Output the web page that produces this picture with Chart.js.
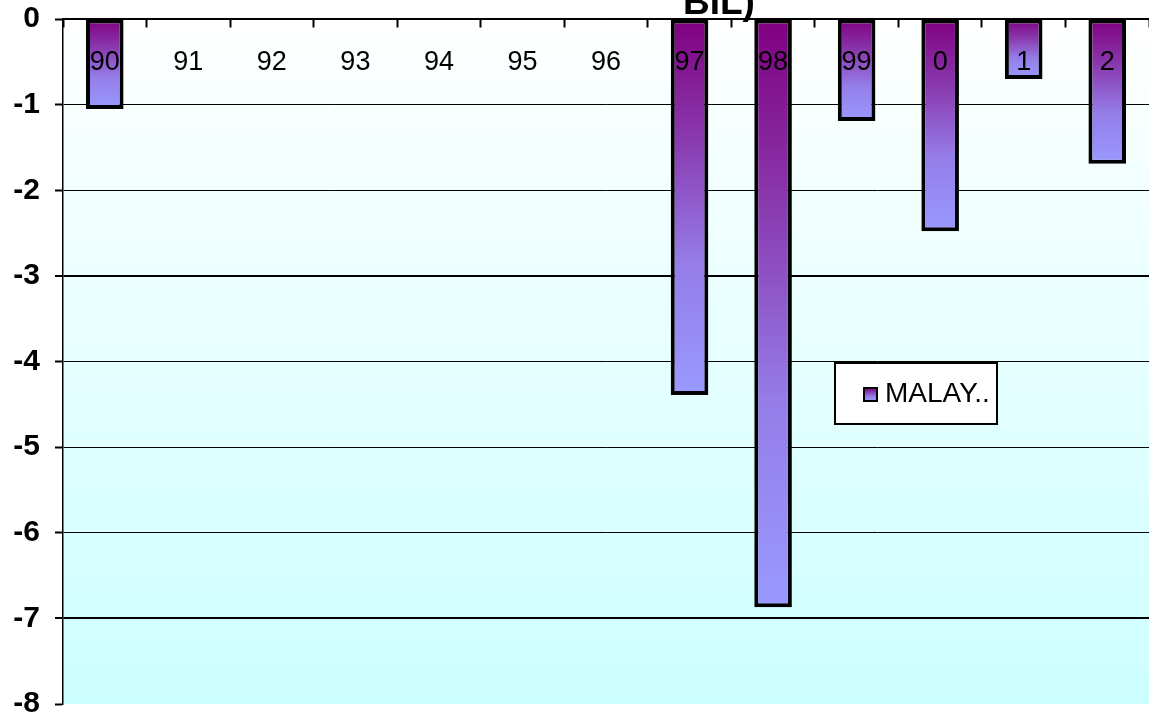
<!DOCTYPE html>
<html>
<head>
<meta charset="utf-8">
<script src="https://cdn.jsdelivr.net/npm/chart.js@4/dist/chart.umd.min.js"></script>
<style>
  html, body { margin: 0; padding: 0; background: #fff; }
  #wrap { width: 1149px; height: 719px; position: relative; }
</style>
</head>
<body>
<div id="wrap"><canvas id="c" width="1149" height="719"></canvas></div>
<script>
// Years (two-digit) along the category axis
const years = ['90', '91', '92', '93', '94', '95', '96', '97', '98', '99', '0', '1', '2'];
// Series values (negative balances); empty years have no bar
const malaysia = [-1.05, null, null, null, null, null, null, -4.39, -6.87, -1.19, -2.48, -0.70, -1.69];
const seriesName = 'MALAYSIA';
const titleTail = 'BIL)';
// Value axis range
const yMin = -8;
const yMax = 0;
const yStep = 1;
// Heavier rules on a couple of gridlines
const heavyRules = [-3, -7];

const FONT = "'Liberation Sans', Arial, sans-serif";
const BAR_TOP = [128, 0, 128];
const BAR_BOTTOM = [153, 153, 255];
// Position along the bar -> share of the lighter colour
const BAR_STOPS = [[0, 0], [0.3, 0.35], [0.65, 0.82], [1, 1]];

function mix(t) {
  const c = BAR_TOP.map((v, i) => Math.round(v + (BAR_BOTTOM[i] - v) * t));
  return 'rgb(' + c.join(',') + ')';
}

function barGradient(ctx2d, y0, y1) {
  const g = ctx2d.createLinearGradient(0, y0, 0, y1);
  BAR_STOPS.forEach(([p, t]) => g.addColorStop(p, mix(t)));
  return g;
}

// Plot-area background: white at the top fading to pale cyan at the bottom
const plotBackground = {
  id: 'plotBackground',
  beforeDraw(chart) {
    const { ctx, chartArea: a } = chart;
    const g = ctx.createLinearGradient(0, a.top, 0, a.bottom);
    g.addColorStop(0, '#FFFFFF');
    g.addColorStop(1, '#CCFFFF');
    ctx.save();
    ctx.fillStyle = g;
    ctx.fillRect(a.left, a.top, a.right - a.left, a.bottom - a.top);
    ctx.restore();
  }
};

// Tail of the chart heading, running off the top edge
const headingTail = {
  id: 'headingTail',
  afterDraw(chart) {
    const { ctx } = chart;
    ctx.save();
    ctx.font = 'bold 37px ' + FONT;
    ctx.fillStyle = '#000';
    ctx.textAlign = 'left';
    ctx.textBaseline = 'alphabetic';
    ctx.fillText(titleTail, 683, 14);
    ctx.restore();
  }
};

// Boxed legend inside the plot area
const boxLegend = {
  id: 'boxLegend',
  afterDraw(chart) {
    const { ctx } = chart;
    const ds = chart.data.datasets[0];
    const bx = 835, by = 363, bw = 162, bh = 61;
    ctx.save();
    ctx.fillStyle = '#FFFFFF';
    ctx.fillRect(bx, by, bw, bh);
    ctx.lineWidth = 2;
    ctx.strokeStyle = '#000';
    ctx.strokeRect(bx, by, bw, bh);

    const mx = 864, my = 388, ms = 13;
    ctx.fillStyle = barGradient(ctx, my, my + ms);
    ctx.fillRect(mx, my, ms, ms);
    ctx.lineWidth = 2;
    ctx.strokeRect(mx, my, ms, ms);

    ctx.font = '28px ' + FONT;
    ctx.fillStyle = '#000';
    ctx.textBaseline = 'middle';
    const tx = 885;
    const room = bx + bw - tx;
    let text = ds.label;
    if (ctx.measureText(text).width > room) {
      let cut = text;
      while (cut.length > 1 && ctx.measureText(cut + '..').width > room) cut = cut.slice(0, -1);
      text = cut + '..';
    }
    ctx.beginPath();
    ctx.rect(bx, by, bw, bh);
    ctx.clip();
    ctx.fillText(text, tx, by + bh / 2 + 1);
    ctx.restore();
  }
};

new Chart(document.getElementById('c'), {
  type: 'bar',
  data: {
    labels: years,
    datasets: [{
      label: seriesName,
      data: malaysia,
      backgroundColor(c) {
        const chart = c.chart;
        if (c.type !== 'data' || !chart.chartArea || !c.parsed || c.parsed.y == null) return mix(1);
        const y = chart.scales.y;
        return barGradient(chart.ctx, y.getPixelForValue(0), y.getPixelForValue(c.parsed.y));
      },
      borderColor: '#000',
      borderWidth: 4,
      borderSkipped: false,
      barPercentage: 0.45,
      categoryPercentage: 1
    }]
  },
  options: {
    responsive: false,
    animation: false,
    devicePixelRatio: 1,
    layout: { padding: { top: 19, bottom: 15, left: 0, right: 0 } },
    plugins: {
      legend: { display: false },
      title: { display: false },
      tooltip: { enabled: false }
    },
    scales: {
      x: {
        position: { y: 0 },
        offset: true,
        grid: {
          drawOnChartArea: false,
          drawTicks: true,
          tickLength: 8,
          tickColor: '#000',
          tickWidth: 2,
          offset: true
        },
        border: { display: true, color: '#000', width: 1.5 },
        ticks: {
          z: 1,
          color: '#000',
          padding: 19,
          maxRotation: 0,
          autoSkip: false,
          font: { family: FONT, size: 27 }
        }
      },
      y: {
        min: yMin,
        max: yMax,
        afterFit(s) {
          s.width = 63;
          s.paddingTop = 0;
          s.paddingBottom = 0;
        },
        grid: {
          color(c) { return c.tick && c.tick.value === yMin ? 'rgba(0,0,0,0)' : '#000'; },
          lineWidth(c) { return c.tick && heavyRules.includes(c.tick.value) ? 2 : 1; },
          tickColor: '#000',
          tickLength: 8,
          tickWidth: 2
        },
        border: { display: true, color: '#000', width: 1.5 },
        ticks: {
          stepSize: yStep,
          color: '#000',
          padding: 15,
          font: { family: FONT, size: 30, weight: 'bold' }
        }
      }
    }
  },
  plugins: [plotBackground, headingTail, boxLegend]
});
</script>
</body>
</html>
